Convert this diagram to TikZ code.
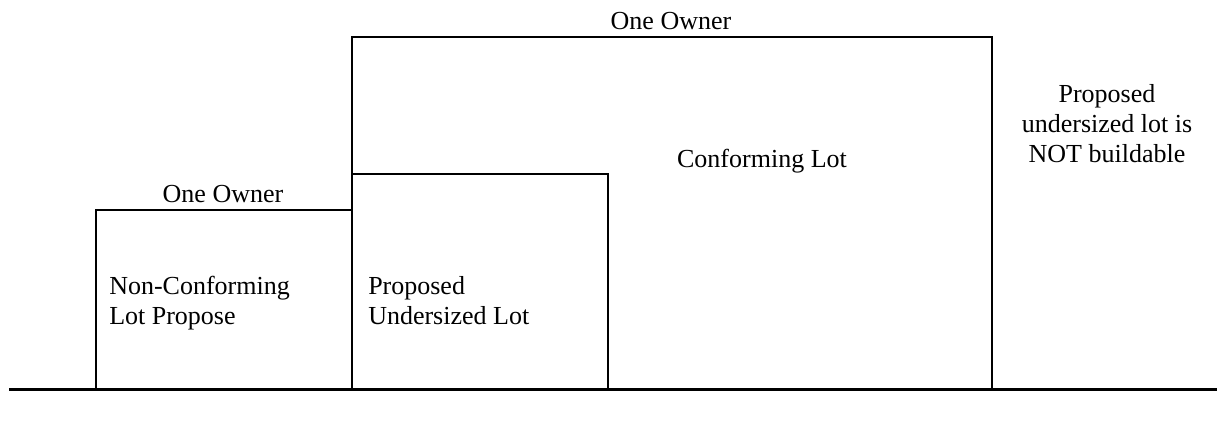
\documentclass[tikz,border=0pt]{standalone}
\usepackage{fontspec}
\setmainfont{Liberation Serif}
\begin{document}
\begin{tikzpicture}[x=0.75pt,y=-0.75pt,
  box/.style={line width=1.5pt},
  ground/.style={line width=2.25pt},
  lbl/.style={font=\fontsize{19.5}{22.5}\selectfont, inner sep=0pt}]
\useasboundingbox (0,0) rectangle (1217,426);
% lots
\draw[box] (96,389) -- (96,210) -- (352,210);
\draw[box] (352,389) -- (352,37) -- (992,37) -- (992,389);
\draw[box] (352,174) -- (608,174) -- (608,389);
% ground
\draw[ground] (9,389) -- (1217,389);
% labels (base of a multi-line node = baseline of its last line)
\node[lbl, anchor=base] (owner1) at (671,29) {One Owner};
\node[lbl, anchor=base] (owner2) at (223,202) {One Owner};
\node[lbl, anchor=base] (conf) at (762,167) {Conforming Lot};
\node[lbl, anchor=base west, align=left] (nonconf) at (109,324) {Non-Conforming\\Lot Propose};
\node[lbl, anchor=base west, align=left] (under) at (368,324) {Proposed\\Undersized Lot};
\node[lbl, anchor=base, align=center] (note) at (1107,162) {Proposed\\undersized lot is\\NOT buildable};
\end{tikzpicture}
\end{document}
